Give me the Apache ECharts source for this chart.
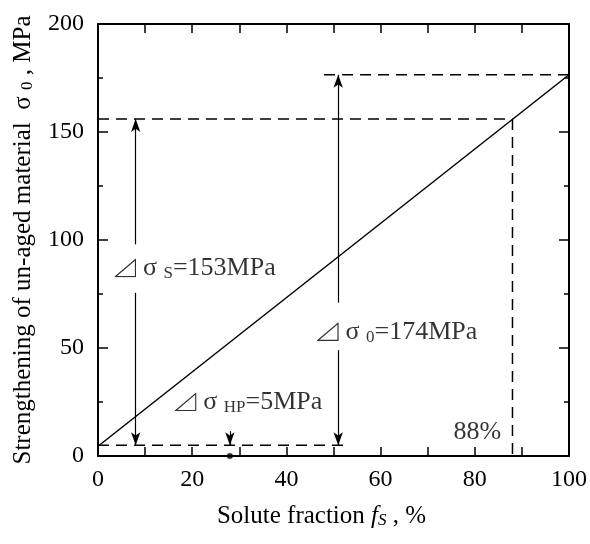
<!DOCTYPE html>
<html>
<head>
<meta charset="utf-8">
<script src="https://cdn.jsdelivr.net/npm/echarts@6/dist/echarts.min.js"></script>
<style>
  html, body { margin: 0; padding: 0; background: #fff; }
  #chart { width: 590px; height: 544px; }
</style>
</head>
<body>
<div id="chart"></div>
<script>
// main strengthening line
const lineX = [0, 100]
const lineY = [4.5, 176.5]

// dashed guide lines, each [start, end] in data units
const guideLines = [
  [[0, 156], [88, 156]],
  [[88, 156], [88, 0]],
  [[48, 176.5], [100, 176.5]],
  [[0, 5], [52.4, 5]]
]

// arrows: from -> to (arrow head at "to")
const arrowLines = [
  [[8, 98], [8, 156]],
  [[8, 75.5], [8, 5]],
  [[51, 71], [51, 176.5]],
  [[51, 49], [51, 5]],
  [[28, 11.5], [28, 5]]
]

// text annotations: [x, y, rich text]
const notes = [
  [3.5, 87, '{t| }{g| σ }{s|S}{n|=153MPa}'],
  [46.5, 57.5, '{t| }{g| σ }{s|0}{n|=174MPa}'],
  [16.3, 25, '{t| }{g| σ }{s|HP}{n|=5MPa}'],
  [75.5, 11, '{n|88%}']
]

const dotPoint = [[28, 0]]

const serif = 'Liberation Serif'
// thin right-triangle mark drawn in front of the delta labels
const triangleIcon = 'data:image/svg+xml;utf8,' + encodeURIComponent(
  '<svg xmlns="http://www.w3.org/2000/svg" width="22" height="19" viewBox="0 0 22 19">' +
  '<path d="M1 18 L21 1 L21 18 Z" fill="none" stroke="black" stroke-width="1.2"/></svg>'
)
const richText = {
  n: { fontFamily: serif, fontSize: 26, color: '#000' },
  g: { fontFamily: serif, fontSize: 26, color: '#000' },
  t: { width: 22, height: 19, backgroundColor: { image: triangleIcon } },
  s: { fontFamily: serif, fontSize: 17, color: '#000', padding: [11, 0, 0, 0] }
}

const chart = echarts.init(document.getElementById('chart'), null, { renderer: 'canvas' })

const axisCommon = {
  axisLine: { show: true, onZero: false, lineStyle: { color: '#000', width: 2 } },
  splitLine: { show: false }
}

const option = {
  animation: false,
  backgroundColor: '#fff',
  grid: { left: 98, right: 18, top: 24, bottom: 88 },
  xAxis: [
    {
      ...axisCommon,
      type: 'value', min: 0, max: 100, interval: 20,
      axisTick: { inside: true, length: 9, lineStyle: { color: '#000', width: 1.5 } },
      minorTick: { show: true, splitNumber: 2, length: 9, lineStyle: { color: '#000', width: 1.5 } },
      axisLabel: { color: '#000', fontFamily: serif, fontSize: 24, margin: 12 },
      name: '{n|Solute fraction }{i|f}{si|S}{n| , %}',
      nameLocation: 'middle',
      nameGap: 47,
      nameTextStyle: {
        padding: [0, 24, 0, 0],
        rich: {
          n: { fontFamily: serif, fontSize: 25, color: '#000' },
          i: { fontFamily: serif, fontSize: 25, fontStyle: 'italic', color: '#000' },
          si: { fontFamily: serif, fontSize: 17, fontStyle: 'italic', color: '#000', padding: [9, 0, 0, 0] }
        }
      }
    },
    {
      ...axisCommon,
      type: 'value', min: 0, max: 100, interval: 20, position: 'top',
      axisTick: { inside: true, length: 9, lineStyle: { color: '#000', width: 1.5 } },
      minorTick: { show: true, splitNumber: 2, length: 9, lineStyle: { color: '#000', width: 1.5 } },
      axisLabel: { show: false }
    }
  ],
  yAxis: [
    {
      ...axisCommon,
      type: 'value', min: 0, max: 200, interval: 50,
      axisTick: { inside: true, length: 10, lineStyle: { color: '#000', width: 1.5 } },
      minorTick: { show: true, splitNumber: 2, length: 5, lineStyle: { color: '#000', width: 1.5 } },
      axisLabel: { color: '#000', fontFamily: serif, fontSize: 24, margin: 14 },
      name: '{n|Strengthening of un-aged material  σ }{s|0}{n| , MPa}',
      nameLocation: 'middle',
      nameGap: 62,
      nameTextStyle: {
        rich: {
          n: { fontFamily: serif, fontSize: 25, color: '#000' },
          s: { fontFamily: serif, fontSize: 17, color: '#000', padding: [9, 0, 0, 0] }
        }
      }
    },
    {
      ...axisCommon,
      type: 'value', min: 0, max: 200, interval: 50, position: 'right',
      axisTick: { inside: true, length: 10, lineStyle: { color: '#000', width: 1.5 } },
      minorTick: { show: true, splitNumber: 2, length: 5, lineStyle: { color: '#000', width: 1.5 } },
      axisLabel: { show: false }
    }
  ],
  series: [
    {
      type: 'line',
      data: lineX.map((x, i) => [x, lineY[i]]),
      symbol: 'none',
      lineStyle: { color: '#000', width: 1.5 }
    },
    ...guideLines.map(seg => ({
      type: 'line',
      data: seg,
      symbol: 'none',
      lineStyle: { color: '#000', width: 1.5, type: [11, 7] }
    })),
    {
      type: 'line',
      data: [],
      markLine: {
        silent: true,
        symbol: ['none', 'arrow'],
        symbolSize: [7, 13],
        label: { show: false },
        lineStyle: { color: '#000', width: 1.2, type: 'solid' },
        data: arrowLines.map(([a, b]) => [{ coord: a }, { coord: b }])
      }
    },
    {
      type: 'scatter',
      data: dotPoint,
      symbolSize: 6,
      itemStyle: { color: '#000' }
    },
    {
      type: 'scatter',
      data: notes.map(n => ({ value: [n[0], n[1]], label: { formatter: n[2] } })),
      symbolSize: 0,
      label: {
        show: true,
        position: 'right',
        distance: 0,
        fontFamily: serif,
        fontSize: 26,
        rich: richText
      }
    }
  ]
}

chart.setOption(option)
</script>
</body>
</html>
